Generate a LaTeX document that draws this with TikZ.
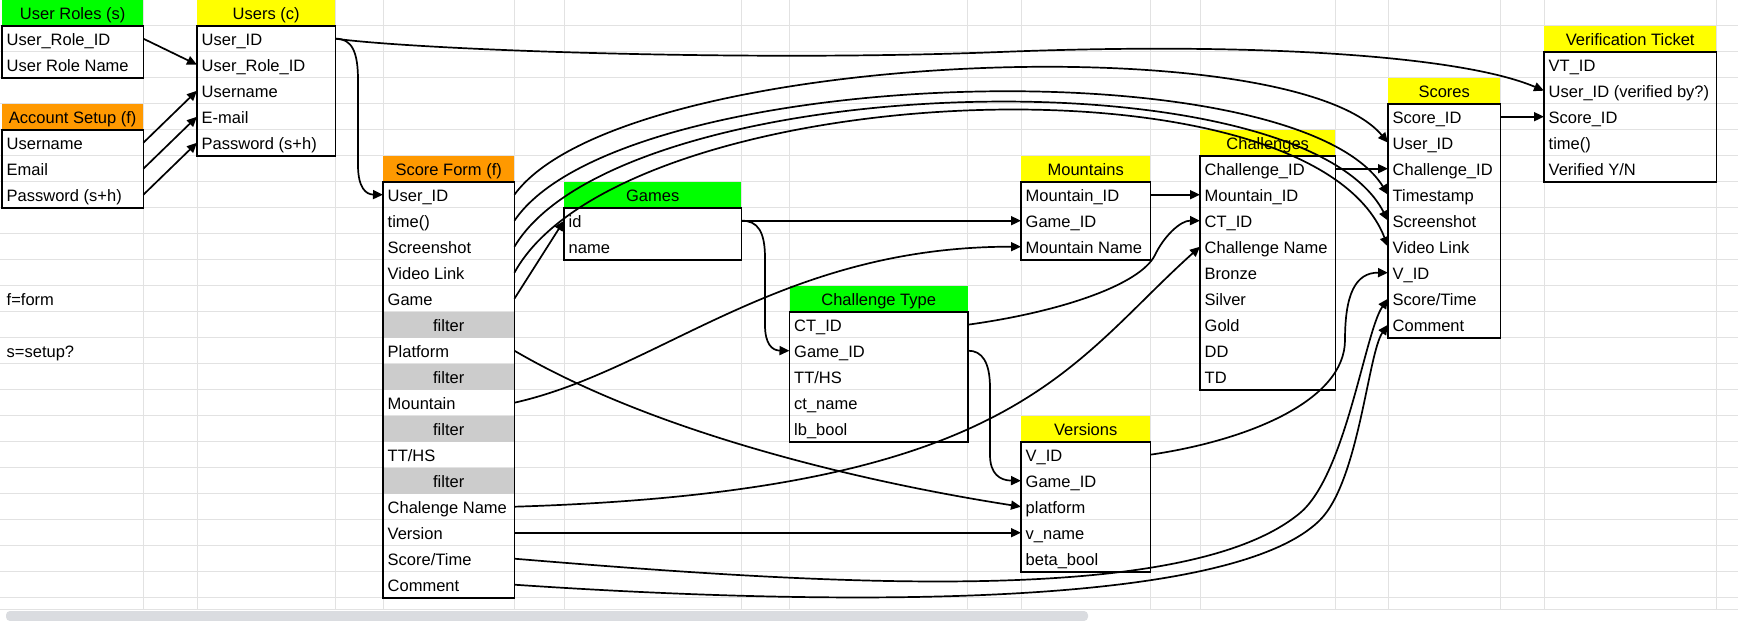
\documentclass[tikz,border=0pt]{standalone}
\usepackage{fontspec}
\setmainfont{Liberation Sans}
\usetikzlibrary{arrows.meta}
\definecolor{gridc}{HTML}{E2E2E2}
\definecolor{hgreen}{HTML}{00FF00}
\definecolor{hyellow}{HTML}{FFFF00}
\definecolor{horange}{HTML}{FF9900}
\definecolor{filterc}{HTML}{CCCCCC}
\definecolor{scrollc}{HTML}{DADCE0}
\newcommand{\dbhead}[6]{\node[hdr,fill=#5,minimum width=#3pt] (#1-h) at (#2,{26*#4-26.5}) {#6};}
\newcommand{\dbrows}[4]{\foreach \rr/\txt in {#4}{\node[cellst,minimum width=#3pt] (#1-\rr) at (#2,{26*\rr-26.5}) {\makebox[\dimexpr #3pt-9pt\relax][l]{\txt}};}}
\tikzset{
 gridline/.style={draw=gridc,line width=1pt},
 hdr/.style={anchor=north west,minimum height=26pt,inner xsep=0pt,inner ysep=0pt,text height=17pt,text depth=3pt,align=center},
 cellst/.style={anchor=north west,minimum height=26pt,inner xsep=4.5pt,inner ysep=0pt,text height=17pt,text depth=3pt},
 filterst/.style={cellst,fill=filterc,minimum width=131pt},
 border/.style={draw=black,line width=1.2pt},
 conn/.style={draw=black,line width=1.7pt,line join=round,-{Triangle[length=10pt,width=9pt]}},
 note/.style={anchor=west,inner sep=0pt,text height=17pt,text depth=3pt}
}
\begin{document}
\begin{tikzpicture}[x=1pt,y=-1pt,font=\fontsize{16.5}{19}\selectfont]
\useasboundingbox (0,0) rectangle (1738,621);
\fill[white] (0,0) rectangle (1738,621);
% grid
\foreach \k in {1,...,23} \draw[gridline] (0,{26*\k-0.5}) -- (1738,{26*\k-0.5});
\draw[gridline] (0,609) -- (1738,609);
\foreach \x in {143,197,335,383,514,564,741,789.5,967.5,1021,1150,1200,1335,1388,1500,1544,1716} \draw[gridline] (\x,0) -- (\x,609);
\fill[scrollc,rounded corners=4pt] (6,611) rectangle (1088,621);

% User Roles
\dbhead{ur}{2}{141}{1}{hgreen}{User Roles (s)}
\dbrows{ur}{2}{141}{2/User\_Role\_ID,3/User Role Name}
\draw[border] (ur-h.south west) rectangle (ur-3.south east);
% Account Setup
\dbhead{as}{2}{141}{5}{horange}{Account Setup (f)}
\dbrows{as}{2}{141}{6/Username,7/Email,8/Password (s+h)}
\draw[border] (as-h.south west) rectangle (as-8.south east);
% Users
\dbhead{u}{197}{138}{1}{hyellow}{Users (c)}
\dbrows{u}{197}{138}{2/User\_ID,3/User\_Role\_ID,4/Username,5/E-mail,6/Password (s+h)}
\draw[border] (u-h.south west) rectangle (u-6.south east);
% Score Form
\dbhead{sf}{383}{131}{7}{horange}{Score Form (f)}
\dbrows{sf}{383}{131}{8/User\_ID,9/time(),10/Screenshot,11/Video Link,12/Game,14/Platform,16/Mountain,18/{TT/HS},20/Chalenge Name,21/Version,22/{Score/Time},23/Comment}
\node[filterst] (sf-13) at (383,311.5) {filter};
\node[filterst] (sf-15) at (383,363.5) {filter};
\node[filterst] (sf-17) at (383,415.5) {filter};
\node[filterst] (sf-19) at (383,467.5) {filter};
\draw[border] (sf-h.south west) rectangle (sf-23.south east);
% Games
\dbhead{g}{564}{177}{8}{hgreen}{Games}
\dbrows{g}{564}{177}{9/id,10/name}
\draw[border] (g-h.south west) rectangle (g-10.south east);
% Mountains
\dbhead{m}{1021}{129}{7}{hyellow}{Mountains}
\dbrows{m}{1021}{129}{8/Mountain\_ID,9/Game\_ID,10/Mountain Name}
\draw[border] (m-h.south west) rectangle (m-10.south east);
% Challenge Type
\dbhead{ct}{789.5}{178}{12}{hgreen}{Challenge Type}
\dbrows{ct}{789.5}{178}{13/CT\_ID,14/Game\_ID,15/{TT/HS},16/ct\_name,17/lb\_bool}
\draw[border] (ct-h.south west) rectangle (ct-17.south east);
% Versions
\dbhead{v}{1021}{129}{17}{hyellow}{Versions}
\dbrows{v}{1021}{129}{18/V\_ID,19/Game\_ID,20/platform,21/v\_name,22/beta\_bool}
\draw[border] (v-h.south west) rectangle (v-22.south east);
% Challenges
\dbhead{c}{1200}{135}{6}{hyellow}{Challenges}
\dbrows{c}{1200}{135}{7/Challenge\_ID,8/Mountain\_ID,9/CT\_ID,10/Challenge Name,11/Bronze,12/Silver,13/Gold,14/DD,15/TD}
\draw[border] (c-h.south west) rectangle (c-15.south east);
% Scores
\dbhead{s}{1388}{112}{4}{hyellow}{Scores}
\dbrows{s}{1388}{112}{5/Score\_ID,6/User\_ID,7/Challenge\_ID,8/Timestamp,9/Screenshot,10/Video Link,11/V\_ID,12/{Score/Time},13/Comment}
\draw[border] (s-h.south west) rectangle (s-13.south east);
% Verification Ticket
\dbhead{vt}{1544}{172}{2}{hyellow}{Verification Ticket}
\dbrows{vt}{1544}{172}{3/VT\_ID,4/User\_ID (verified by?),5/Score\_ID,6/time(),7/{Verified Y/N}}
\draw[border] (vt-h.south west) rectangle (vt-7.south east);

% notes
\node[note] (fform) at (6.5,298.5) {f=form};
\node[note] (ssetup) at (6.5,350.5) {s=setup?};

% connectors
\draw[conn] (ur-2.east) -- (u-3.west);
\draw[conn] (as-6.east) -- (u-4.west);
\draw[conn] (as-7.east) -- (u-5.west);
\draw[conn] (as-8.east) -- (u-6.west);
\draw[conn] (u-2.east) .. controls (352,38.5) and (358,52) .. (358,80) -- (358,165) .. controls (358,188) and (366,194.5) .. (sf-8.west);
\draw[conn] (u-2.east) .. controls (420,50) and (750,62) .. (1000,52) .. controls (1250,42) and (1460,55) .. (vt-4.west);
\draw[conn] (sf-8.east) .. controls (620,50) and (1290,25) .. (s-6.west);
\draw[conn] (sf-9.east) .. controls (620,65) and (1295,45) .. (s-8.west);
\draw[conn] (sf-10.east) .. controls (620,70) and (1300,50) .. (s-9.west);
\draw[conn] (sf-11.east) .. controls (620,80) and (1310,45) .. (s-10.west);
\draw[conn] (sf-12.east) -- (g-9.west);
\draw[conn] (g-9.east) -- (m-9.west);
\draw[conn] (g-9.east) .. controls (758,220.5) and (765,232) .. (765,258) -- (765,325) .. controls (765,344) and (772,350.5) .. (ct-14.west);
\draw[conn] (sf-16.east) .. controls (660,370) and (780,246.5) .. (m-10.west);
\draw[conn] (sf-14.east) .. controls (650,430) and (850,480) .. (v-20.west);
\draw[conn] (sf-20.east) .. controls (1014,491.5) and (1066,367) .. (c-10.west);
\draw[conn] (sf-21.east) -- (v-21.west);
\draw[conn] (sf-22.east) .. controls (814,583.5) and (1185,609) .. (1300,513) .. controls (1346,474.4) and (1365,331.3) .. (s-12.west);
\draw[conn] (sf-23.east) .. controls (814,605) and (1228,612) .. (1320,520) .. controls (1359,481) and (1368,353) .. (s-13.west);
\draw[conn] (ct-13.east) .. controls (1060,312) and (1140,285) .. (1155,255) .. controls (1163.5,237) and (1180,220.5) .. (c-9.west);
\draw[conn] (ct-14.east) .. controls (982,350.5) and (990,362) .. (990,388) -- (990,455) .. controls (990,474) and (1000,480.5) .. (v-19.west);
\draw[conn] (m-8.east) -- (c-8.west);
\draw[conn] (c-7.east) -- (s-7.west);
\draw[conn] (v-18.east) .. controls (1250,440) and (1345,400) .. (1345,340) .. controls (1345,295) and (1355,272.5) .. (s-11.west);
\draw[conn] (s-5.east) -- (vt-5.west);
\end{tikzpicture}
\end{document}
